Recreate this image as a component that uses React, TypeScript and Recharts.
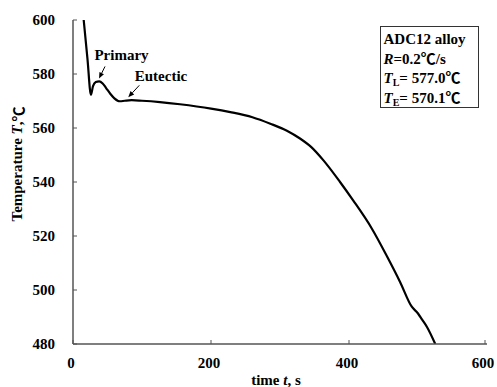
import { Line, LineChart, ReferenceLine, XAxis, YAxis } from "recharts";

// cooling curve (time in s, temperature in ℃)
const timeS = [
  15.5, 21, 26, 29, 33, 38, 43, 48, 54, 60, 68, 75, 85, 100, 126, 155, 200, 228, 260, 286, 310,
  329, 345, 363, 387, 406, 433, 455, 474, 491, 500, 506, 513, 525,
];
const tempC = [
  600, 585.5, 572.3, 575.5, 577.0, 577.3, 576.5, 574.8, 572.7, 571, 569.9, 570.1, 570.3, 570.1,
  569.6, 568.8, 567.2, 565.9, 564, 561.6, 559, 556.1, 553, 548, 540, 533.2, 522.8, 512.5, 503,
  493.8, 491.3, 489, 486.3, 480,
];
const xTicks = [0, 200, 400, 600];
const yTicks = [480, 500, 520, 540, 560, 580, 600];

// arrow annotations: label, arrow tail (t, T), arrow head (t, T)
const annoLabels = ["Primary", "Eutectic"];
const annoFrom = [
  [46.4, 582.8],
  [96.1, 575.8],
];
const annoTo = [
  [37.7, 578.3],
  [80.1, 571.4],
];

const data = timeS.map((t, i) => ({ t, T: tempC[i] }));

const SERIF = '"Liberation Serif", "Times New Roman", "Noto Sans CJK JP", serif';
const CJK_C = '"Noto Sans CJK JP", "Noto Sans CJK SC", sans-serif';

function XTick(props: any) {
  const { x, y, payload } = props;
  return (
    <g>
      <line x1={x} y1={y} x2={x} y2={y - 4} stroke="#555" />
      <text x={x - 2} y={y + 24} textAnchor="middle" fontFamily={SERIF} fontWeight="bold" fontSize={15} fill="#000">
        {payload.value}
      </text>
    </g>
  );
}

function YTick(props: any) {
  const { x, y, payload } = props;
  return (
    <g>
      <line x1={x} y1={y} x2={x + 4} y2={y} stroke="#555" />
      <text x={x - 18} y={y + 5} textAnchor="end" fontFamily={SERIF} fontWeight="bold" fontSize={15} fill="#000">
        {payload.value}
      </text>
    </g>
  );
}

function arrowShape(label: string, dx: number, dy: number) {
  return (p: any) => {
    const { x1, y1, x2, y2 } = p;
    const len = Math.hypot(x2 - x1, y2 - y1) || 1;
    const ux = (x2 - x1) / len;
    const uy = (y2 - y1) / len;
    const hx = x2 - ux * 6;
    const hy = y2 - uy * 6;
    return (
      <g>
        <line x1={x1} y1={y1} x2={hx} y2={hy} stroke="#000" strokeWidth={1} />
        <polygon
          points={`${x2},${y2} ${hx - uy * 2.5},${hy + ux * 2.5} ${hx + uy * 2.5},${hy - ux * 2.5}`}
          fill="#000"
        />
        <text x={x1 + dx} y={y1 + dy} textAnchor="middle" fontFamily={SERIF} fontWeight="bold" fontSize={15} fill="#000">
          {label}
        </text>
      </g>
    );
  };
}

const annoOffsets = [
  [16.5, -6],
  [21.7, -4],
];

const rowStyle = { height: 19.7, overflow: "visible" as const };
const subStyle = { fontSize: 10, position: "relative" as const, top: 3, lineHeight: 0 };
const degStyle = { fontFamily: CJK_C, lineHeight: 0 };

export default function App() {
  return (
    <div style={{ position: "relative", width: 497, height: 387, background: "#fff" }}>
      <style>{`body{margin:0}`}</style>
      <LineChart width={497} height={387} data={data} margin={{ top: 20, right: 10, bottom: 0, left: 0 }}>
        <XAxis
          dataKey="t"
          type="number"
          domain={[0, 600]}
          ticks={xTicks}
          height={43}
          tickSize={0}
          tickMargin={0}
          tick={<XTick />}
          axisLine={{ stroke: "#555", strokeWidth: 1.5 }}
          label={{
            content: () => (
              <text x={276} y={385} textAnchor="middle" fontFamily={SERIF} fontWeight="bold" fontSize={15} fill="#000">
                time <tspan fontStyle="italic">t</tspan>, s
              </text>
            ),
          }}
        />
        <XAxis
          xAxisId="top"
          orientation="top"
          type="number"
          domain={[0, 600]}
          height={0}
          tick={false}
          tickLine={false}
          axisLine={{ stroke: "#000", strokeWidth: 1 }}
        />
        <YAxis
          type="number"
          domain={[480, 600]}
          ticks={yTicks}
          width={73}
          tickSize={0}
          tickMargin={0}
          tick={<YTick />}
          axisLine={{ stroke: "#555", strokeWidth: 1.5 }}
          allowDataOverflow
          label={{
            content: () => (
              <text
                x={17}
                y={164}
                transform="rotate(-90 17 164)"
                textAnchor="middle"
                dominantBaseline="central"
                fontFamily={SERIF}
                fontWeight="bold"
                fontSize={15}
                fill="#000"
              >
                Temperature <tspan fontStyle="italic">T</tspan>,<tspan fontFamily={CJK_C}>℃</tspan>
              </text>
            ),
          }}
        />
        <YAxis
          yAxisId="right"
          orientation="right"
          type="number"
          domain={[480, 600]}
          width={0}
          tick={false}
          tickLine={false}
          axisLine={{ stroke: "#000", strokeWidth: 1 }}
        />
        <Line
          dataKey="T"
          type="monotone"
          stroke="#000"
          strokeWidth={2.2}
          dot={false}
          isAnimationActive={false}
        />
        {annoLabels.map((label, i) => (
          <ReferenceLine
            key={label}
            segment={[
              { x: annoFrom[i][0], y: annoFrom[i][1] },
              { x: annoTo[i][0], y: annoTo[i][1] },
            ]}
            shape={arrowShape(label, annoOffsets[i][0], annoOffsets[i][1])}
          />
        ))}
      </LineChart>
      <div
        style={{
          position: "absolute",
          left: 379.5,
          top: 26,
          width: 99,
          height: 82,
          border: "1px solid #333",
          boxSizing: "border-box",
          padding: "3px 0 0 3px",
          fontFamily: SERIF,
          fontWeight: "bold",
          fontSize: 15,
          lineHeight: "19.7px",
          color: "#000",
          whiteSpace: "nowrap",
        }}
      >
        <div style={rowStyle}>ADC12 alloy</div>
        <div style={rowStyle}>
          <i>R</i>=0.2<span style={degStyle}>℃</span>/s
        </div>
        <div style={rowStyle}>
          <i>T</i>
          <span style={subStyle}>L</span>= 577.0<span style={degStyle}>℃</span>
        </div>
        <div style={rowStyle}>
          <i>T</i>
          <span style={subStyle}>E</span>= 570.1<span style={degStyle}>℃</span>
        </div>
      </div>
    </div>
  );
}
